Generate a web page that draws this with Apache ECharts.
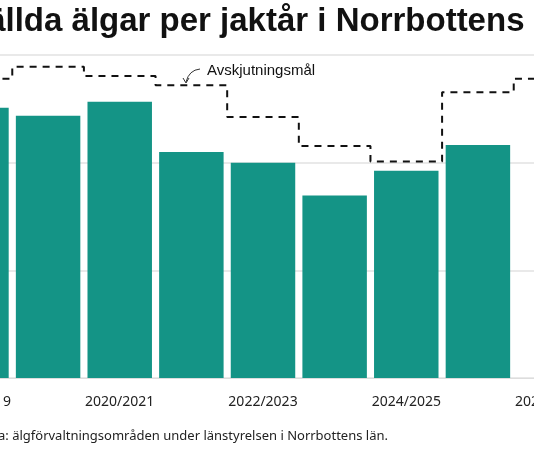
<!DOCTYPE html>
<html><head><meta charset="utf-8">
<script src="https://cdn.jsdelivr.net/npm/echarts@6/dist/echarts.min.js"></script>
<style>html,body{margin:0;padding:0;overflow:hidden;width:534px;height:450px;background:#fff}
#c{position:absolute;left:-61px;top:0;width:648px;height:450px}</style>
</head><body><div id="c"></div>
<script>
const categories = ['2018/2019','2019/2020','2020/2021','2021/2022','2022/2023','2023/2024','2024/2025','2025/2026','2026/2027'];
const felled = [5020, 4870, 5130, 4200, 4000, 3390, 3850, 4330, null];
const target = [5560, 5780, 5610, 5440, 4850, 4310, 4020, 5310, 5560];
const yTicks = [0, 2000, 4000, 6000];
const OX = 61;
const chart = echarts.init(document.getElementById('c'));
chart.setOption({
  animation:false,
  title:{text:'Fällda älgar per jaktår i Norrbottens län', left:OX-38, top:0,
    textStyle:{fontFamily:'Liberation Sans, Arial', fontWeight:'bold', fontSize:33, color:'#111'}},
  grid:{left:0, right:0, top:55, bottom:72},
  xAxis:{type:'category', data:categories,
    axisLine:{lineStyle:{color:'#ddd'}}, axisTick:{show:false},
    axisLabel:{interval:1, fontFamily:'Noto Sans', fontSize:14, color:'#222', margin:17}},
  yAxis:{type:'value', min:yTicks[0], max:yTicks[yTicks.length-1], interval:2000,
    axisLabel:{show:false}, splitLine:{lineStyle:{color:'#e2e2e2', width:1.5}}},
  series:[
    {type:'bar', data:felled, barCategoryGap:'10%', itemStyle:{color:'#149486'}},
    {type:'line', data:target, step:'middle', symbol:'none', z:5,
      lineStyle:{color:'#111', width:2, type:[7,6]}}
  ],
  graphic:[
    {type:'text', x:OX+207, y:63, style:{text:'Avskjutningsmål', font:'15px Liberation Sans, Arial', fill:'#111'}},
    {type:'bezierCurve', shape:{x1:OX+200, y1:69, cpx1:OX+189, cpy1:70, x2:OX+186, y2:82}, style:{stroke:'#333', lineWidth:1, fill:null}},
    {type:'polyline', shape:{points:[[OX+183,78],[OX+186,83],[OX+189,78]]}, style:{stroke:'#333', lineWidth:1, fill:null}},
    {type:'text', x:OX+388, y:430, style:{text:'Källa: älgförvaltningsområden under länstyrelsen i Norrbottens län.', font:'13px Noto Sans', fill:'#222', align:'right'}}
  ]
});
</script></body></html>
